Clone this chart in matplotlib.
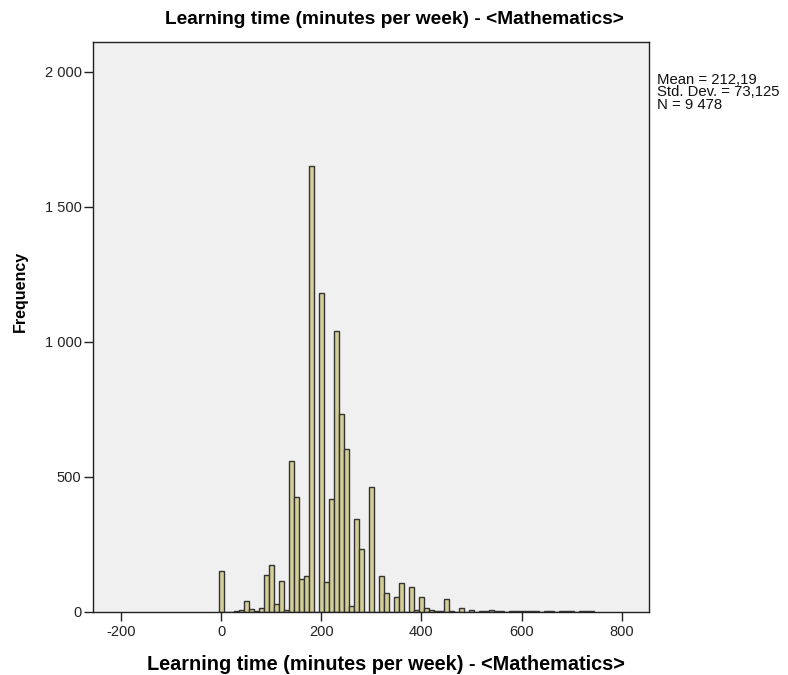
import matplotlib
matplotlib.use('Agg')
import matplotlib.pyplot as plt
from matplotlib.ticker import FuncFormatter

plt.rcParams['font.family'] = ['Liberation Sans', 'DejaVu Sans']
plt.rcParams['axes.unicode_minus'] = False

# histogram bins (centre, minutes) and their frequencies
bin_centers = [0, 10, 20, 30, 40, 50, 60, 70, 80, 90,
               100, 110, 120, 130, 140, 150, 160, 170, 180, 190,
               200, 210, 220, 230, 240, 250, 260, 270, 280, 290,
               300, 310, 320, 330, 340, 350, 360, 370, 380, 390,
               400, 410, 420, 430, 440, 450, 460, 470, 480, 490,
               500, 510, 520, 530, 540, 550, 560, 570, 580, 590,
               600, 610, 620, 630, 640, 650, 660, 670, 680, 690,
               700, 710, 720, 730, 740]
counts = [150, 0, 0, 2, 6, 38, 11, 3, 15, 137,
          172, 28, 115, 6, 558, 425, 121, 131, 1650, 0,
          1180, 111, 417, 1040, 733, 604, 20, 343, 234, 0,
          460, 0, 133, 71, 0, 55, 105, 0, 90, 6,
          55, 12, 8, 2, 1, 47, 2, 0, 12, 0,
          8, 0, 1, 2, 6, 1, 1, 0, 1, 1,
          3, 1, 1, 1, 0, 1, 1, 0, 1, 1,
          1, 0, 1, 1, 1]
x_ticks = [-200, 0, 200, 400, 600, 800]
y_ticks = [0, 500, 1000, 1500, 2000]
title = 'Learning time (minutes per week) - <Mathematics>'
stats = 'Mean = 212,19\nStd. Dev. = 73,125\nN = 9 478'

fig = plt.figure(figsize=(7.88, 6.75), dpi=100)
ax = fig.add_axes([0.1176, 0.0938, 0.8236 - 0.1176, 0.9382 - 0.0938])
ax.set_facecolor('#f0f0f0')

ax.bar(bin_centers, counts, width=10, color='#d3ce97', edgecolor='#333333', linewidth=1.0)

ax.set_xlim(-256.5, 854.5)
ax.set_ylim(0, 2111)
ax.set_xticks(x_ticks)
ax.set_yticks(y_ticks)

def spaced(v, pos):
    return '{:,}'.format(int(v)).replace(',', ' ')

ax.yaxis.set_major_formatter(FuncFormatter(spaced))
ax.tick_params(direction='out', length=6.5, width=1, colors='#222222',
               labelsize=10.5, pad=1.5)
ax.tick_params(axis='x', pad=3)
for s in ax.spines.values():
    s.set_color('#222222')
    s.set_linewidth(1)

fig.text(0.5, 1 - 20 / 675, title, ha='center', va='center',
         fontsize=13.8, fontweight='bold')
fig.text(386 / 788, 1 - 664 / 675, title, ha='center', va='center',
         fontsize=14.3, fontweight='bold')
fig.text(20 / 788, 1 - 291 / 675, 'Frequency', ha='center', va='center',
         rotation=90, fontsize=11.5, fontweight='bold')
fig.text(657 / 788, 1 - 73 / 675, stats, ha='left', va='top',
         fontsize=10.7, linespacing=0.85, color='#111111')

fig.savefig('out.png', dpi=100)
